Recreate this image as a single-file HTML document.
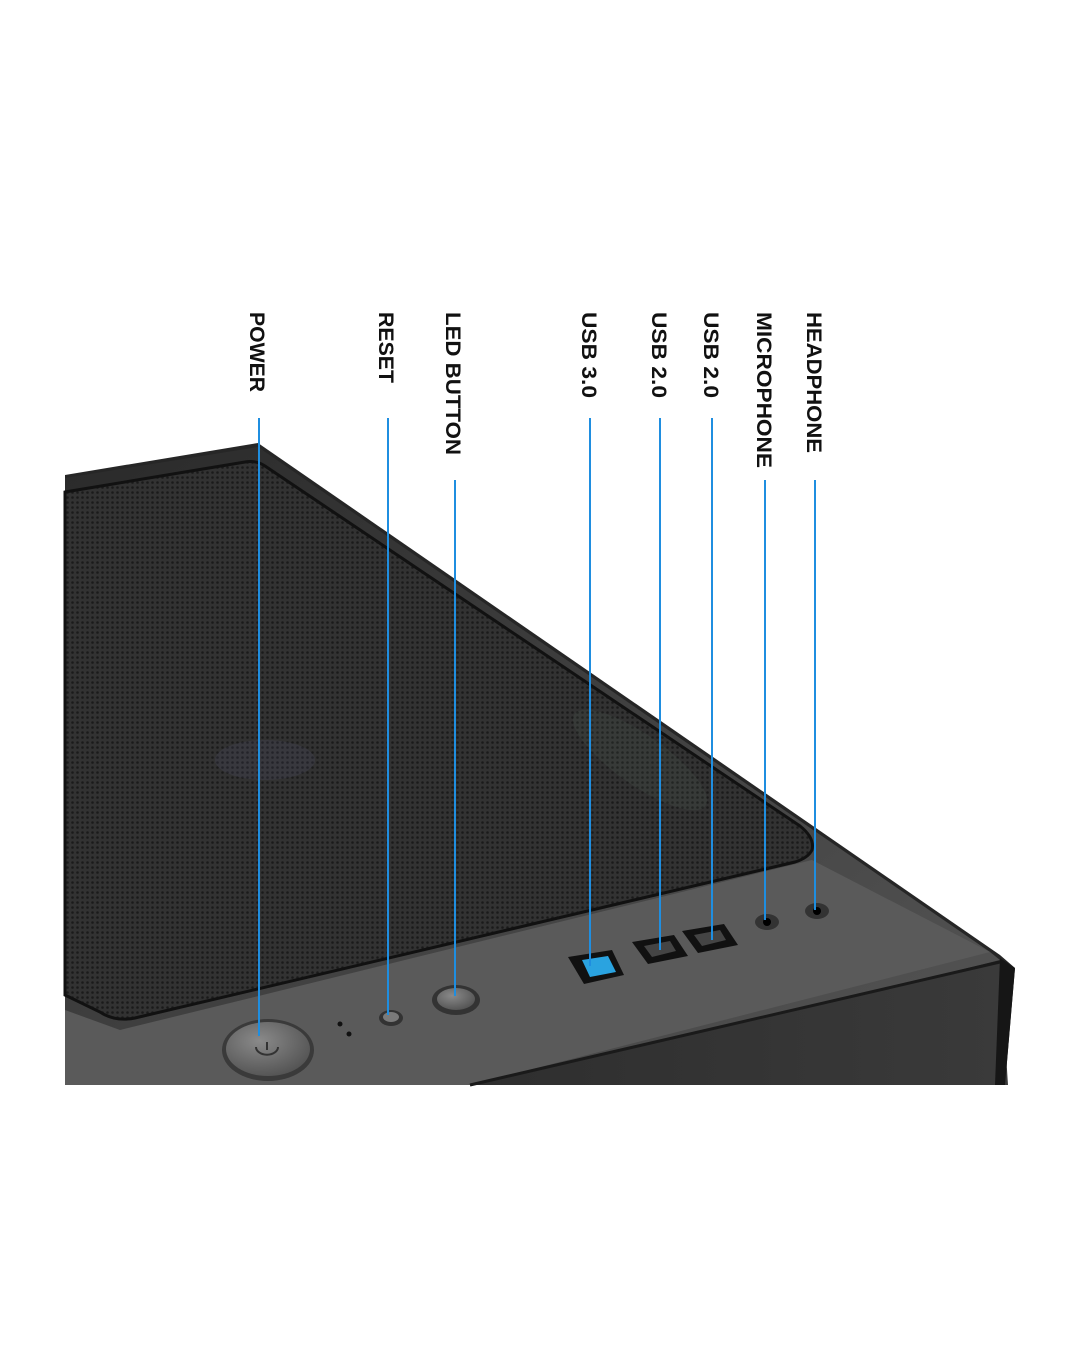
<!DOCTYPE html>
<html><head><meta charset="utf-8"><style>html,body{margin:0;padding:0;background:#fff}svg{display:block}</style></head><body>
<svg width="1080" height="1350" viewBox="0 0 1080 1350" xmlns="http://www.w3.org/2000/svg">
<defs>
<pattern id="mesh" width="5" height="5" patternUnits="userSpaceOnUse">
<rect width="5" height="5" fill="#323232"/><circle cx="2.5" cy="2.5" r="1.3" fill="#1a1a1a"/>
</pattern>
<linearGradient id="top" x1="0" y1="0" x2="1" y2="1">
<stop offset="0" stop-color="#2a2a2a"/><stop offset="1" stop-color="#555"/>
</linearGradient>
<linearGradient id="front" x1="0" y1="0" x2="1" y2="0">
<stop offset="0" stop-color="#2e2e2e"/><stop offset="1" stop-color="#3a3a3a"/>
</linearGradient>
<radialGradient id="btn" cx="0.4" cy="0.35" r="0.8">
<stop offset="0" stop-color="#8a8a8a"/><stop offset="1" stop-color="#4a4a4a"/>
</radialGradient>
</defs>
<polygon points="65,475 258,443 1000,955 1015,968 1005,1085 65,1085" fill="#262626"/>
<polygon points="65,478 258,447 990,952 1000,960 500,1085 65,1085" fill="url(#top)"/>
<polygon points="120,1030 812,860 990,952 470,1085 65,1085 65,1010" fill="#5a5a5a"/>
<polygon points="470,1085 1000,962 1008,1085" fill="url(#front)"/>
<polygon points="1000,958 1015,968 1005,1085 995,1085" fill="#161616"/>
<line x1="470" y1="1085" x2="1000" y2="962" stroke="#1a1a1a" stroke-width="3"/>
<path d="M65,492 L245,462 Q256,460 265,466 L800,826 Q815,838 812,850 Q808,858 795,862 L135,1018 Q115,1022 100,1012 L65,995 Z" fill="url(#mesh)" stroke="#111" stroke-width="3"/>
<ellipse cx="265" cy="760" rx="50" ry="20" fill="#6a6a9a" opacity="0.12"/>
<ellipse cx="640" cy="760" rx="80" ry="25" fill="#6a8a7a" opacity="0.1" transform="rotate(35 640 760)"/>
<ellipse cx="268" cy="1050" rx="46" ry="31" fill="#3a3a3a"/>
<ellipse cx="268" cy="1049" rx="42" ry="27" fill="url(#btn)"/>
<path d="M256,1047 a10,7 0 1,0 22,0" fill="none" stroke="#333" stroke-width="2"/>
<line x1="267" y1="1042" x2="267" y2="1050" stroke="#333" stroke-width="2"/>
<circle cx="340" cy="1024" r="2.5" fill="#111"/><circle cx="349" cy="1034" r="2.5" fill="#111"/>
<ellipse cx="391" cy="1018" rx="12" ry="8" fill="#333"/><ellipse cx="391" cy="1017" rx="8" ry="5" fill="#7a7a7a"/>
<ellipse cx="456" cy="1000" rx="24" ry="15" fill="#333"/><ellipse cx="456" cy="999" rx="19" ry="11" fill="url(#btn)"/>
<polygon points="568,957 612,950 624,975 584,984" fill="#111"/>
<polygon points="582,960 608,956 616,972 590,977" fill="#2aa3e0"/>
<polygon points="632,942 674,935 688,956 648,964" fill="#111"/>
<polygon points="644,946 670,941 676,951 652,957" fill="#444"/>
<polygon points="682,931 724,924 738,945 698,953" fill="#111"/>
<polygon points="694,935 720,930 726,940 702,946" fill="#444"/>
<ellipse cx="767" cy="922" rx="12" ry="8" fill="#333"/><circle cx="767" cy="922" r="4" fill="#000"/>
<ellipse cx="817" cy="911" rx="12" ry="8" fill="#333"/><circle cx="817" cy="911" r="4" fill="#000"/>
<g stroke="#1f8ee0" stroke-width="2">
<line x1="259" y1="418" x2="259" y2="1036"/>
<line x1="388" y1="418" x2="388" y2="1015"/>
<line x1="455" y1="480" x2="455" y2="996"/>
<line x1="590" y1="418" x2="590" y2="966"/>
<line x1="660" y1="418" x2="660" y2="950"/>
<line x1="712" y1="418" x2="712" y2="940"/>
<line x1="765" y1="480" x2="765" y2="920"/>
<line x1="815" y1="480" x2="815" y2="910"/>
</g>
<g font-family="Liberation Sans, sans-serif" font-weight="bold" font-size="21" fill="#111">
<text transform="translate(250,312) rotate(90)" textLength="80" lengthAdjust="spacingAndGlyphs">POWER</text>
<text transform="translate(379,312) rotate(90)" textLength="71" lengthAdjust="spacingAndGlyphs">RESET</text>
<text transform="translate(446,312) rotate(90)" textLength="143" lengthAdjust="spacingAndGlyphs">LED BUTTON</text>
<text transform="translate(582,312) rotate(90)" textLength="86" lengthAdjust="spacingAndGlyphs">USB 3.0</text>
<text transform="translate(652,312) rotate(90)" textLength="86" lengthAdjust="spacingAndGlyphs">USB 2.0</text>
<text transform="translate(704,312) rotate(90)" textLength="86" lengthAdjust="spacingAndGlyphs">USB 2.0</text>
<text transform="translate(757,312) rotate(90)" textLength="156" lengthAdjust="spacingAndGlyphs">MICROPHONE</text>
<text transform="translate(807,312) rotate(90)" textLength="141" lengthAdjust="spacingAndGlyphs">HEADPHONE</text>
</g>
</svg>
</body></html>
